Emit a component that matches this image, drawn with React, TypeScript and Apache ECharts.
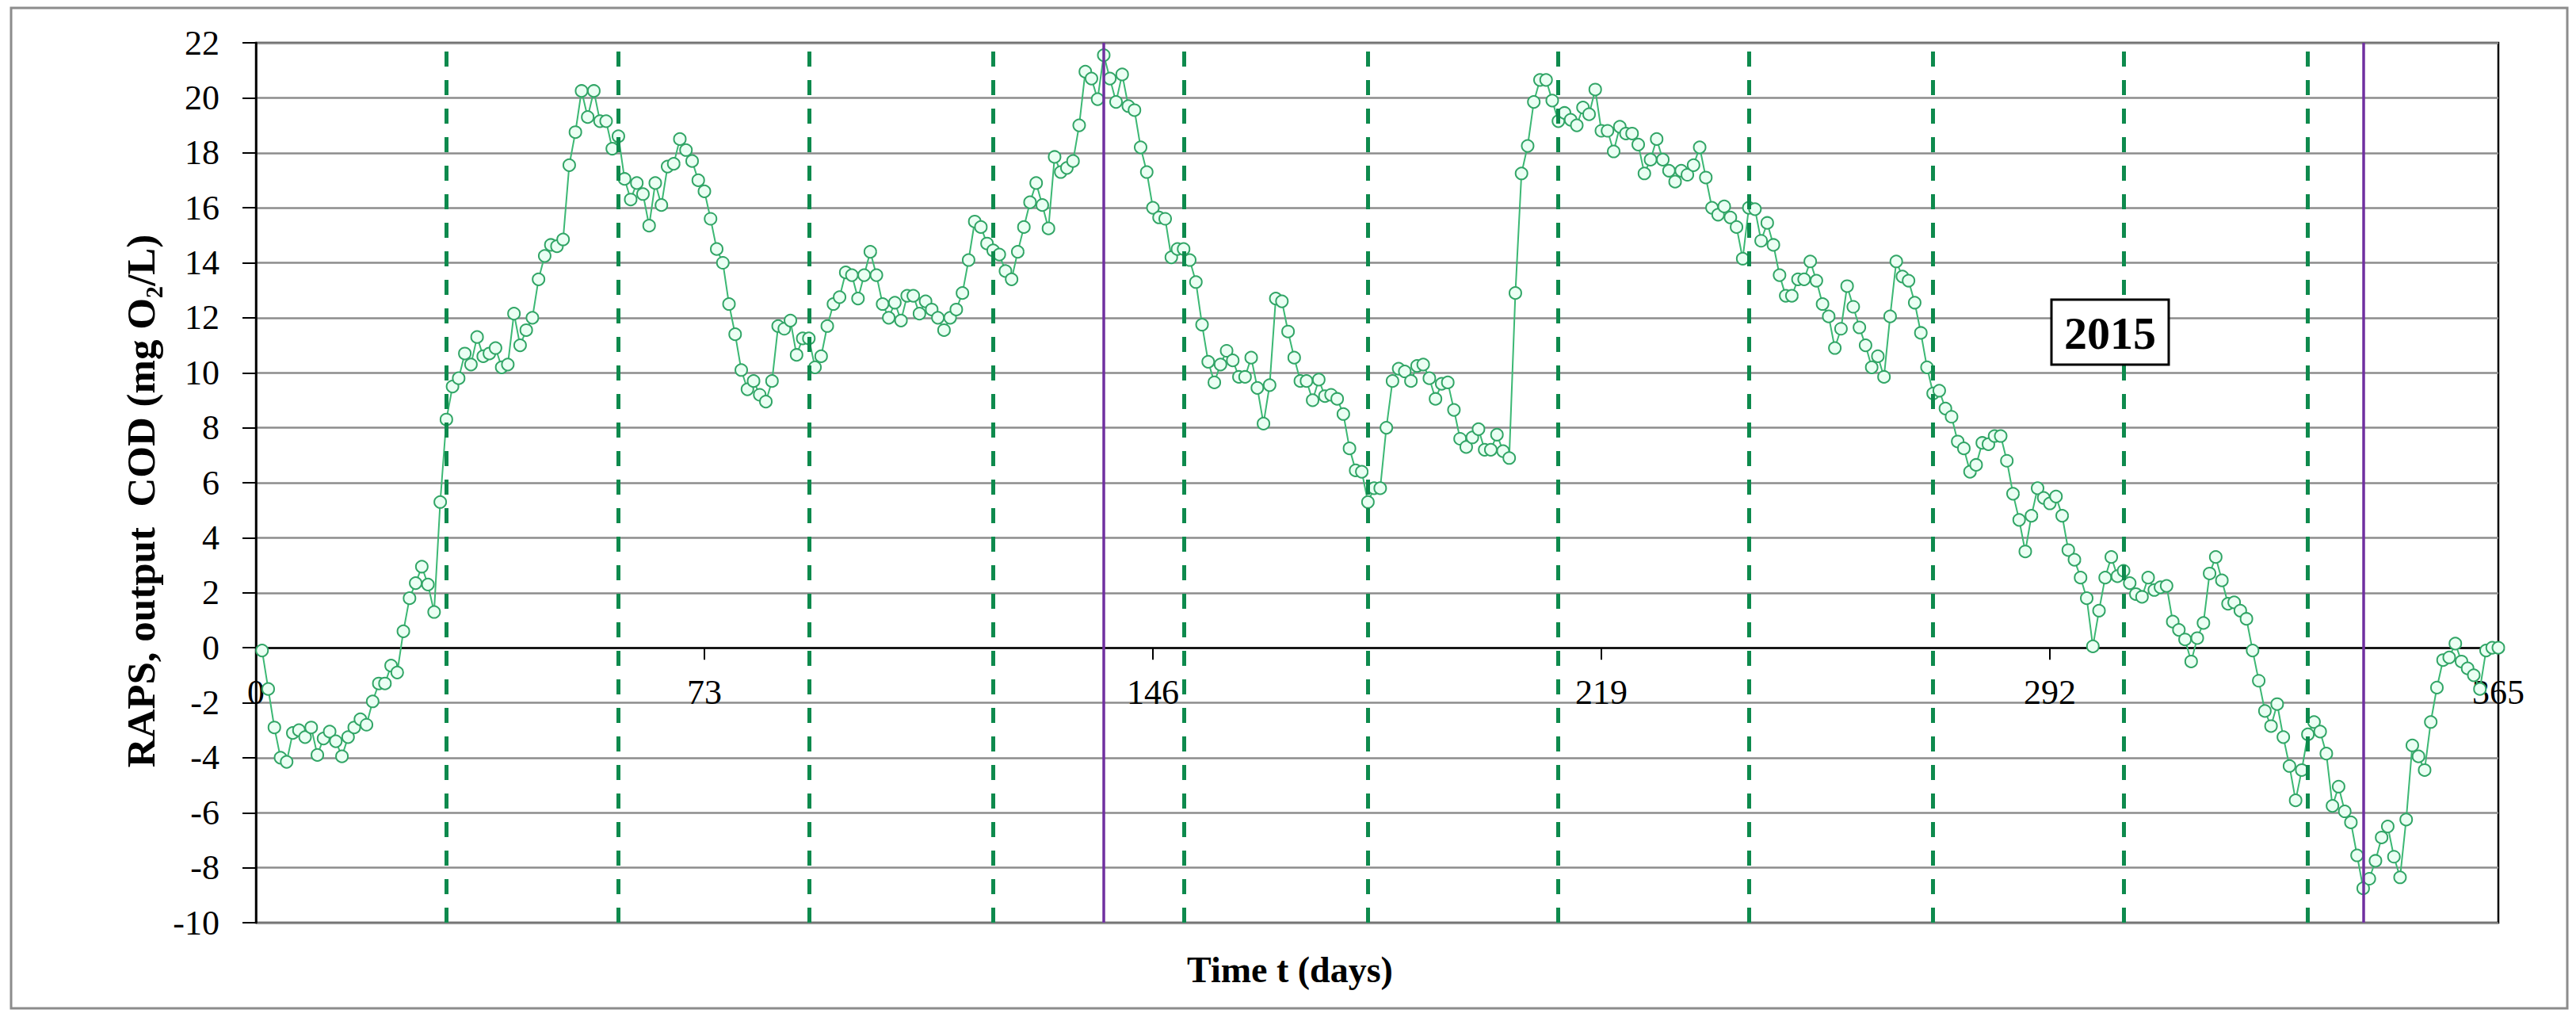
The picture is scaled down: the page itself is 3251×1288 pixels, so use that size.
import React, { useEffect, useRef } from "react";
import * as echarts from "echarts";

// RAPS of output COD, one value per day (day 1 .. 365)
const raps: number[] = [
  -0.1, -1.5, -2.9, -4.0, -4.15, -3.1, -3.0, -3.25, -2.9, -3.9,
  -3.3, -3.05, -3.4, -3.95, -3.25, -2.9, -2.6, -2.8, -1.95, -1.3,
  -1.3, -0.65, -0.9, 0.6, 1.8, 2.35, 2.95, 2.3, 1.3, 5.3,
  8.3, 9.5, 9.8, 10.7, 10.3, 11.3, 10.6, 10.7, 10.9, 10.2,
  10.3, 12.15, 11.0, 11.55, 12.0, 13.4, 14.25, 14.65, 14.6, 14.85,
  17.55, 18.75, 20.25, 19.3, 20.25, 19.15, 19.15, 18.15, 18.6, 17.05,
  16.3, 16.9, 16.5, 15.35, 16.9, 16.1, 17.5, 17.6, 18.5, 18.1,
  17.7, 17.0, 16.6, 15.6, 14.5, 14.0, 12.5, 11.4, 10.1, 9.4,
  9.7, 9.2, 8.95, 9.7, 11.7, 11.6, 11.9, 10.65, 11.25, 11.25,
  10.2, 10.6, 11.7, 12.5, 12.75, 13.65, 13.55, 12.7, 13.55, 14.4,
  13.55, 12.5, 12.0, 12.55, 11.9, 12.8, 12.8, 12.15, 12.6, 12.3,
  12.0, 11.55, 12.0, 12.3, 12.9, 14.1, 15.5, 15.3, 14.7, 14.45,
  14.3, 13.7, 13.4, 14.4, 15.3, 16.2, 16.9, 16.1, 15.25, 17.85,
  17.3, 17.45, 17.7, 19.0, 20.95, 20.7, 19.95, 21.55, 20.7, 19.85,
  20.85, 19.7, 19.55, 18.2, 17.3, 16.0, 15.65, 15.6, 14.2, 14.5,
  14.5, 14.1, 13.3, 11.75, 10.4, 9.65, 10.3, 10.8, 10.45, 9.85,
  9.85, 10.55, 9.45, 8.15, 9.55, 12.7, 12.6, 11.5, 10.55, 9.7,
  9.7, 9.0, 9.75, 9.15, 9.2, 9.05, 8.5, 7.25, 6.45, 6.4,
  5.3, 5.8, 5.8, 8.0, 9.7, 10.15, 10.05, 9.7, 10.25, 10.3,
  9.8, 9.05, 9.6, 9.65, 8.65, 7.6, 7.3, 7.65, 7.95, 7.2,
  7.2, 7.75, 7.15, 6.9, 12.9, 17.25, 18.25, 19.85, 20.65, 20.65,
  19.9, 19.15, 19.45, 19.2, 19.0, 19.65, 19.4, 20.3, 18.8, 18.8,
  18.05, 18.95, 18.7, 18.7, 18.3, 17.25, 17.75, 18.5, 17.75, 17.35,
  16.95, 17.35, 17.2, 17.55, 18.2, 17.1, 16.0, 15.75, 16.05, 15.65,
  15.3, 14.15, 16.0, 15.95, 14.8, 15.45, 14.65, 13.55, 12.8, 12.8,
  13.4, 13.4, 14.05, 13.35, 12.5, 12.05, 10.9, 11.6, 13.15, 12.4,
  11.65, 11.0, 10.2, 10.6, 9.85, 12.05, 14.05, 13.5, 13.35, 12.55,
  11.45, 10.2, 9.25, 9.35, 8.7, 8.4, 7.5, 7.25, 6.4, 6.65,
  7.45, 7.4, 7.7, 7.7, 6.8, 5.6, 4.65, 3.5, 4.8, 5.8,
  5.45, 5.25, 5.5, 4.8, 3.55, 3.2, 2.55, 1.8, 0.05, 1.35,
  2.55, 3.3, 2.6, 2.8, 2.35, 1.95, 1.85, 2.55, 2.1, 2.2,
  2.25, 0.95, 0.65, 0.3, -0.5, 0.35, 0.9, 2.7, 3.3, 2.45,
  1.6, 1.65, 1.35, 1.05, -0.1, -1.2, -2.3, -2.85, -2.05, -3.25,
  -4.3, -5.55, -4.45, -3.15, -2.7, -3.05, -3.85, -5.75, -5.05, -5.95,
  -6.35, -7.55, -8.75, -8.4, -7.75, -6.9, -6.5, -7.6, -8.35, -6.25,
  -3.55, -3.95, -4.45, -2.7, -1.45, -0.45, -0.35, 0.15, -0.5, -0.75,
  -1.0, -1.5, -0.1, 0.0, 0.0,
];

// month boundaries (dashed) and extreme days (solid purple)
const monthBoundaries: number[] = [31, 59, 90, 120, 151, 181, 212, 243, 273, 304, 334];
const extremeDays: number[] = [138, 343];

const xMin = 0;
const xMax = 365;
const xStep = 73;
const yMin = -10;
const yMax = 22;
const yStep = 2;

const yearLabel = "2015";
const xTitle = "Time t (days)";
const yTitle = "RAPS, output  COD (mg O₂/L)";

const SERIF = "'Liberation Serif', 'Times New Roman', serif";

const GRID_TOP = 54;
const GRID_BOTTOM = 124;
const CHART_H = 1288;

export default function App() {
  const ref = useRef<HTMLDivElement>(null);

  useEffect(() => {
    if (!ref.current) return;
    const chart = echarts.init(ref.current, null, { renderer: "svg" });
    const data = raps.map((v, i) => [i + 1, v]);

    // the x axis crosses at y = 0: shift it up from the bottom edge of the grid
    const plotH = CHART_H - GRID_TOP - GRID_BOTTOM;
    const zeroOffset = -plotH * ((0 - yMin) / (yMax - yMin));

    chart.setOption({
      animation: false,
      backgroundColor: "#ffffff",
      grid: {
        left: 323,
        right: 98,
        top: GRID_TOP,
        bottom: GRID_BOTTOM,
        show: true,
        borderColor: "#000000",
        borderWidth: 2.5,
        backgroundColor: "#ffffff",
      },
      xAxis: {
        type: "value",
        min: xMin,
        max: xMax,
        interval: xStep,
        position: "bottom",
        offset: zeroOffset,
        axisLine: { onZero: false, lineStyle: { color: "#000000", width: 2.5 } },
        axisTick: { show: true, inside: false, length: 15, lineStyle: { color: "#000000", width: 2 } },
        axisLabel: {
          color: "#000000",
          fontFamily: SERIF,
          fontSize: 44,
          margin: 34,
        },
        splitLine: { show: false },
      },
      yAxis: {
        type: "value",
        min: yMin,
        max: yMax,
        interval: yStep,
        axisLine: { show: true, onZero: false, lineStyle: { color: "#000000", width: 2.5 } },
        axisTick: { show: true, inside: false, length: 17, lineStyle: { color: "#000000", width: 2 } },
        axisLabel: {
          color: "#000000",
          fontFamily: SERIF,
          fontSize: 44,
          margin: 46,
        },
        splitLine: { show: true, lineStyle: { color: "#8c8c8c", width: 2.5 } },
      },
      series: [
        {
          type: "line",
          data,
          symbol: "circle",
          symbolSize: 15,
          showSymbol: true,
          lineStyle: { color: "#3cb874", width: 2 },
          itemStyle: { color: "#eafff3", borderColor: "#31a566", borderWidth: 2 },
          z: 3,
          markLine: {
            silent: true,
            symbol: ["none", "none"],
            label: { show: false },
            lineStyle: { type: [19, 17], color: "#0e8a4d", width: 5 },
            data: [
              ...monthBoundaries.map((d) => ({ xAxis: d })),
              ...extremeDays.map((d) => ({
                xAxis: d,
                lineStyle: { type: "solid", color: "#7030a0", width: 3.5 },
              })),
            ],
          },
        },
      ],
      graphic: [
        {
          type: "rect",
          shape: { x: 14, y: 10, width: 3226, height: 1262 },
          style: { fill: "none", stroke: "#8c8c8c", lineWidth: 3 },
          z: -10,
          silent: true,
        },
        {
          type: "text",
          x: 1628,
          y: 1223,
          style: {
            text: xTitle,
            font: `bold 46px ${SERIF}`,
            fill: "#000000",
            textAlign: "center",
            textVerticalAlign: "middle",
          },
        },
        {
          type: "text",
          x: 178,
          y: 632,
          rotation: Math.PI / 2,
          style: {
            text: yTitle,
            font: `bold 51px ${SERIF}`,
            fill: "#000000",
            textAlign: "center",
            textVerticalAlign: "middle",
          },
        },
        {
          type: "group",
          children: [
            {
              type: "rect",
              shape: { x: 2589, y: 378, width: 148, height: 82 },
              style: { fill: "#ffffff", stroke: "#000000", lineWidth: 3 },
              z: 10,
            },
            {
              type: "text",
              x: 2663,
              y: 420,
              z: 11,
              style: {
                text: yearLabel,
                font: `bold 58px ${SERIF}`,
                fill: "#000000",
                textAlign: "center",
                textVerticalAlign: "middle",
              },
            },
          ],
        },
      ],
    });

    return () => chart.dispose();
  }, []);

  return (
    <div
      ref={ref}
      style={{ position: "absolute", left: 0, top: 0, width: 3251, height: 1288 }}
    />
  );
}
